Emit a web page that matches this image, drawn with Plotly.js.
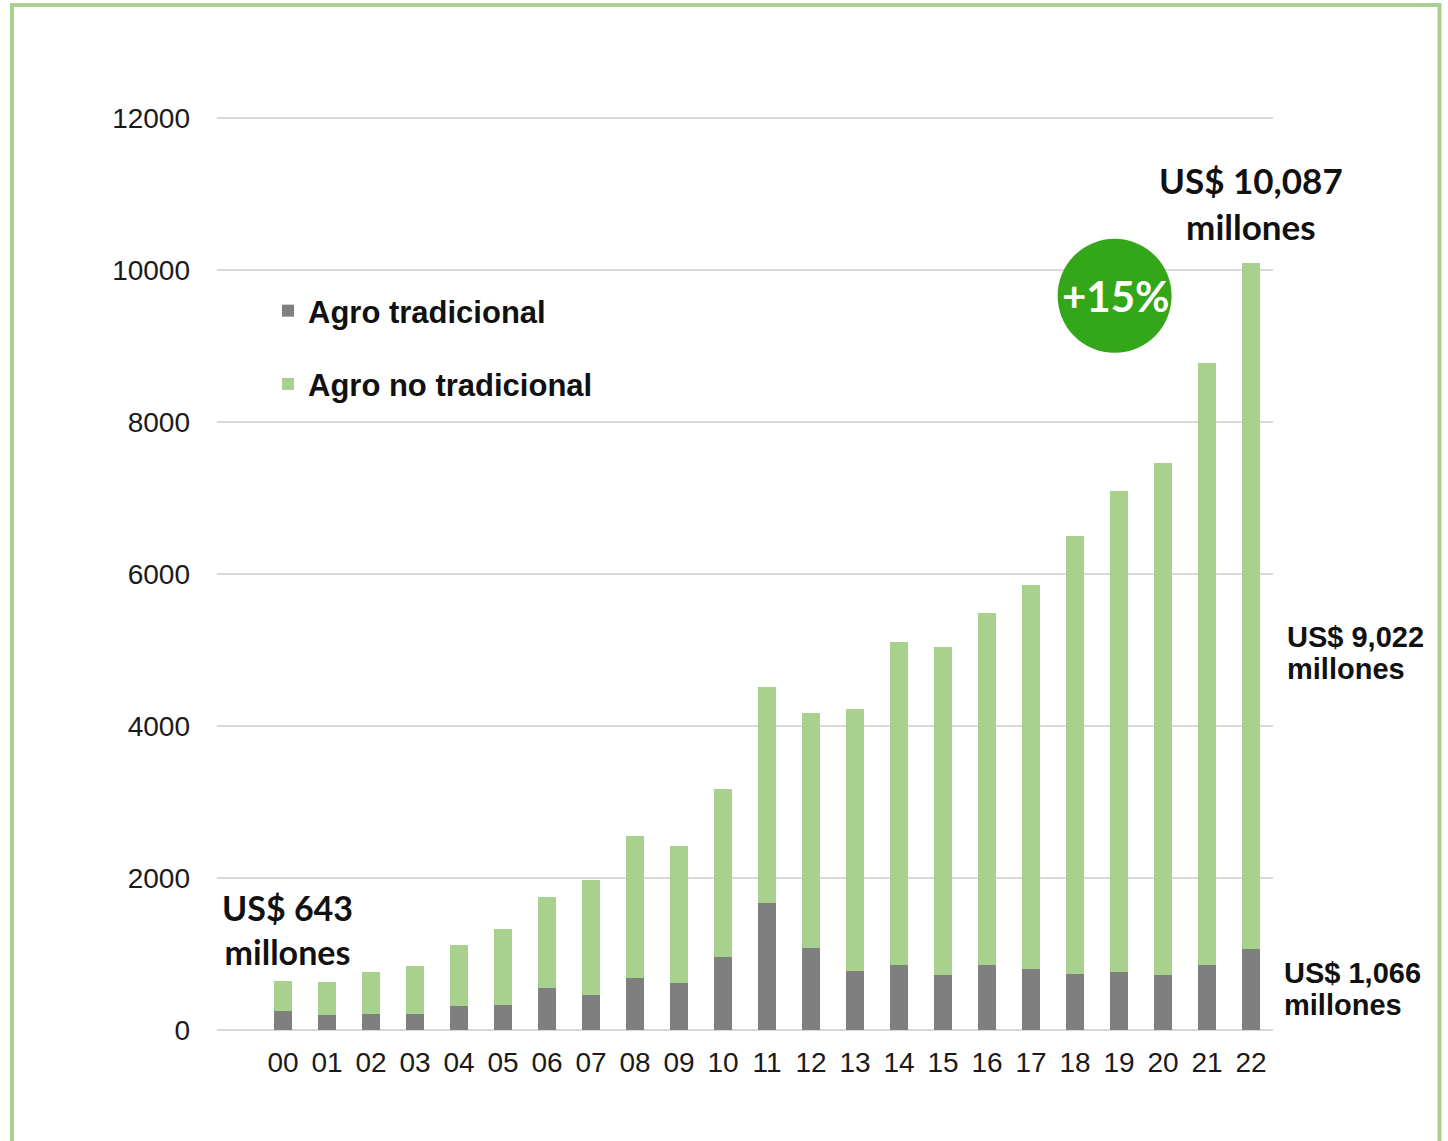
<!DOCTYPE html>
<html>
<head>
<meta charset="utf-8">
<script src="https://cdn.plot.ly/plotly-3.0.1.min.js"></script>
<style>
  html, body { margin: 0; padding: 0; background: #ffffff; }
  #chart { width: 1448px; height: 1141px; }
</style>
</head>
<body>
<div id="chart"></div>
<script>
// ---- Data (US$ millones) ----
const years = ["00","01","02","03","04","05","06","07","08","09","10","11","12","13","14","15","16","17","18","19","20","21","22"];
const agroTradicional = [254,195,214,214,316,333,557,456,680,618,961,1675,1083,780,859,719,859,803,741,759,719,859,1066];
const agroNoTradicional = [389,441,545,624,807,992,1197,1522,1873,1803,2210,2838,3088,3444,4246,4320,4628,5052,5759,6333,6742,7917,9021];
const seriesNames = ["Agro tradicional", "Agro no tradicional"];
const yTicks = [0, 2000, 4000, 6000, 8000, 10000, 12000];
const labelStart = "US$ 643<br>millones";
const labelEnd = "US$ 10,087<br>millones";
const labelNoTrad = ["US$ 9,022", "millones"];
const labelTrad = ["US$ 1,066", "millones"];
const labelGrowth = "+15%";

const xIdx = years.map((_, i) => i);

const traces = [
  {
    type: "bar", name: seriesNames[0], x: xIdx, y: agroTradicional,
    marker: { color: "#7f7f7f" }, legendgroup: "a", hoverinfo: "x+y+name"
  },
  {
    type: "bar", name: seriesNames[1], x: xIdx, y: agroNoTradicional,
    marker: { color: "#a9d18e" }, legendgroup: "b", hoverinfo: "x+y+name"
  }
];

const L = 217, R = 1273, T = 114, B = 1030;
const PW = R - L, PH = B - T;
const px2x = (px) => (px - L) / PW;
const py2y = (py) => (B - py) / PH;

const sideFont = { family: "Liberation Sans, Arial, sans-serif", size: 29, color: "#111111", weight: "bold" };
function sideLabel(text, pxLeft, pyCenter) {
  return {
    x: px2x(pxLeft), y: py2y(pyCenter), xref: "paper", yref: "paper",
    xanchor: "left", yanchor: "middle", text: text, showarrow: false,
    align: "left", font: sideFont
  };
}

const layout = {
  width: 1448, height: 1141,
  margin: { l: L, r: 1448 - R, t: T, b: 1141 - B, pad: 0 },
  paper_bgcolor: "#ffffff", plot_bgcolor: "#ffffff",
  barmode: "stack", bargap: 0.59,
  showlegend: true,
  legend: {
    x: px2x(268), y: py2y(284), xanchor: "left", yanchor: "top",
    traceorder: "grouped", tracegroupgap: 30,
    font: { family: "Liberation Sans, Arial, sans-serif", size: 31, color: "#111111", weight: "bold" },
    bgcolor: "rgba(0,0,0,0)"
  },
  xaxis: {
    range: [-1.5, 22.5],
    tickmode: "array", tickvals: xIdx, ticktext: years,
    showgrid: false, zeroline: false, showline: false, ticks: "",
    tickfont: { family: "Liberation Sans, Arial, sans-serif", size: 28, color: "#1a1a1a" },
    ticklabelstandoff: 13, fixedrange: true
  },
  yaxis: {
    range: [0, 12050],
    tickmode: "array", tickvals: yTicks, ticktext: yTicks.map(String),
    showgrid: true, gridcolor: "#d9d9d9", gridwidth: 2,
    zeroline: true, zerolinecolor: "#d9d9d9", zerolinewidth: 2,
    showline: false, ticks: "",
    tickfont: { family: "Liberation Sans, Arial, sans-serif", size: 28, color: "#1a1a1a" },
    ticklabelstandoff: 26, fixedrange: true
  },
  shapes: [
    {
      type: "rect", xref: "paper", yref: "paper",
      x0: px2x(12), x1: px2x(1439.5), y0: py2y(1160), y1: py2y(5),
      line: { color: "#a9d18e", width: 4 }, fillcolor: "rgba(0,0,0,0)", layer: "above"
    },
    {
      type: "circle", xref: "x", yref: "y", xsizemode: "pixel", ysizemode: "pixel",
      xanchor: 18.9, yanchor: 9658, x0: -57, x1: 57, y0: -57, y1: 57,
      fillcolor: "#34a619", line: { width: 0 }, layer: "above"
    }
  ],
  annotations: [
    {
      x: 0.1, y: 1316, xref: "x", yref: "y", text: labelStart, showarrow: false,
      align: "center", font: { family: "Lato, sans-serif", size: 34, color: "#111111", weight: "bold" }
    },
    {
      x: 22, y: 10882, xref: "x", yref: "y", text: labelEnd, showarrow: false,
      align: "center", font: { family: "Lato, sans-serif", size: 35, color: "#111111", weight: "bold" }
    },
    sideLabel(labelNoTrad[0], 1285, 637),
    sideLabel(labelNoTrad[1], 1285, 669),
    sideLabel(labelTrad[0], 1282, 973),
    sideLabel(labelTrad[1], 1282, 1005),
    {
      x: 18.93, y: 9658, xref: "x", yref: "y", text: labelGrowth, showarrow: false,
      font: { family: "Lato, sans-serif", size: 42, color: "#ffffff", weight: "bold" }
    }
  ]
};

Plotly.newPlot("chart", traces, layout, { staticPlot: true, displayModeBar: false });
</script>
</body>
</html>
